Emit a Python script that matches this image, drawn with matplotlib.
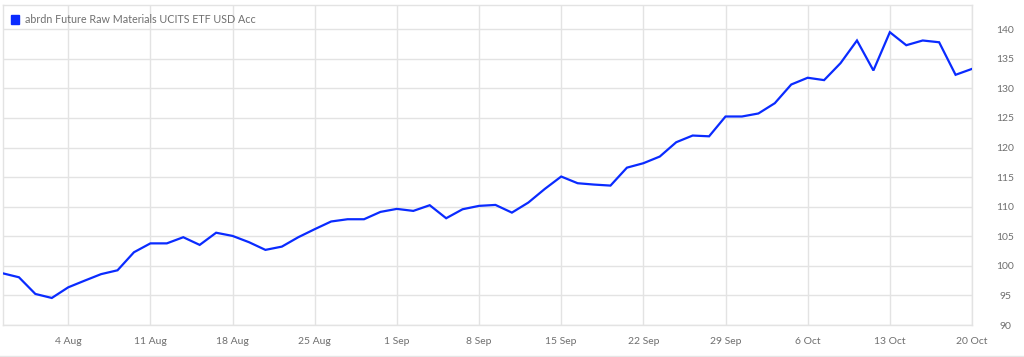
import matplotlib
matplotlib.use("Agg")
import matplotlib.pyplot as plt
import pandas as pd

series_name = "abrdn Future Raw Materials UCITS ETF USD Acc"
start_date = "2025-07-29"
end_date = "2025-10-20"
values = [
    98.75, 98.07, 95.25, 94.57,
    96.37, 97.5, 98.6, 99.25, 102.3,
    103.8, 103.8, 104.84, 103.54, 105.6,
    105.06, 104.0, 102.7, 103.25, 104.84,
    106.2, 107.5, 107.88, 107.88, 109.12,
    109.63, 109.29, 110.25, 108.05, 109.57,
    110.14, 110.3, 109.0, 110.7, 113.0,
    115.1, 113.97, 113.74, 113.57, 116.6,
    117.35, 118.48, 120.9, 122.03, 121.9,
    125.25, 125.25, 125.76, 127.5, 130.66,
    131.8, 131.4, 134.27, 138.1, 133.03,
    139.5, 137.3, 138.1, 137.8, 132.3,
    133.3,
]
tick_dates = ["2025-08-04", "2025-08-11", "2025-08-18", "2025-08-25", "2025-09-01",
              "2025-09-08", "2025-09-15", "2025-09-22", "2025-09-29", "2025-10-06",
              "2025-10-13", "2025-10-20"]
tick_labels = ["4 Aug", "11 Aug", "18 Aug", "25 Aug", "1 Sep", "8 Sep", "15 Sep",
               "22 Sep", "29 Sep", "6 Oct", "13 Oct", "20 Oct"]
y_ticks = [90, 95, 100, 105, 110, 115, 120, 125, 130, 135, 140]

dates = pd.bdate_range(start_date, end_date)
idx = list(range(len(dates)))
date_to_idx = {d.strftime("%Y-%m-%d"): i for i, d in enumerate(dates)}
tick_pos = [date_to_idx[d] for d in tick_dates]

plt.rcParams['font.family'] = ['Lato', 'DejaVu Sans']
W, H = 1024, 357
fig = plt.figure(figsize=(W / 100, H / 100), dpi=100)
ax = fig.add_axes([2.5 / W, (H - 325) / H, (972 - 2.5) / W, (325 - 5) / H])

line_color = "#0a2bff"
ax.plot(idx, values, color=line_color, lw=1.6, solid_joinstyle='miter', zorder=3)

ax.set_xlim(0, len(dates) - 1)
ax.set_ylim(90, 144.1)
ax.set_xticks(tick_pos)
ax.set_xticklabels(tick_labels)
ax.set_yticks(y_ticks)
ax.yaxis.tick_right()

grid_c = "#e3e3e3"
ax.grid(True, color=grid_c, lw=1.0, zorder=0)
for s in ax.spines.values():
    s.set_color(grid_c)
    s.set_linewidth(1.0)

ax.tick_params(axis='both', length=0, labelsize=7.5, labelcolor="#6f6f6f")
ax.tick_params(axis='x', pad=9)
ax.tick_params(axis='y', pad=24)
for lab in ax.get_yticklabels():
    lab.set_horizontalalignment('center')

# legend
fig.patches.append(plt.Rectangle((11 / W, (H - 24) / H), 8 / W, 9 / H,
                                 transform=fig.transFigure, color=line_color, zorder=5))
fig.text(25 / W, (H - 19.5) / H, series_name, fontsize=7.75, color="#707070",
         va='center', ha='left')

# bottom border line
fig.add_artist(plt.Line2D([0, 1], [1.5 / H, 1.5 / H], color="#e6e6e6", lw=1.0,
                          transform=fig.transFigure))

fig.savefig("out.png", dpi=100, facecolor="white")
